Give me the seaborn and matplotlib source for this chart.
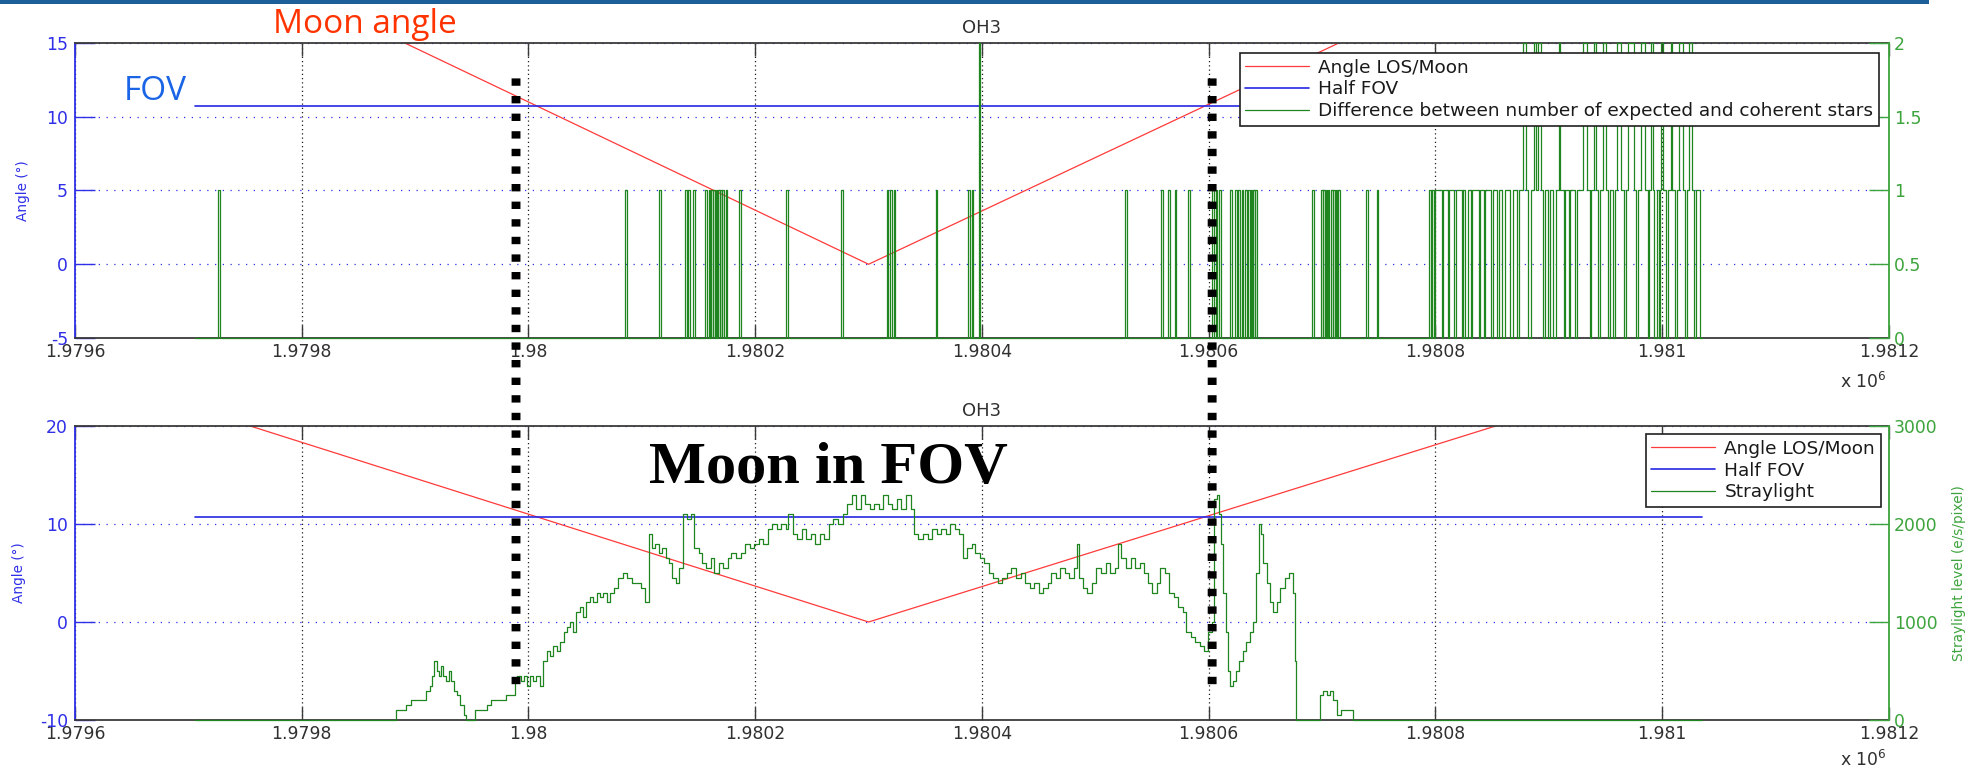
import numpy as np
import seaborn as sns
import matplotlib
matplotlib.use("Agg")
import matplotlib.pyplot as plt
from matplotlib.patches import Rectangle, ConnectionPatch
from matplotlib.ticker import FixedLocator, FixedFormatter

# ---------------------------------------------------------------- data
x_ticks = [1.9796, 1.9798, 1.9800, 1.9802, 1.9804, 1.9806, 1.9808, 1.9810, 1.9812]
x_tick_labels = ["1.9796", "1.9798", "1.98", "1.9802", "1.9804",
                 "1.9806", "1.9808", "1.981", "1.9812"]

# time span of the record (same time unit as the x axis, before the x 10^6 scaling)
record_span = [1979706, 1981035]

# angle between line of sight and Moon (deg)
angle_t = [1979700, 1980300, 1980900]
angle_deg = [22.0, 0.0, 21.7]

# half field of view (deg)
half_fov_deg = 10.7

# difference between expected and coherent stars: isolated spikes
diff_spike_t = [1979726, 1980085, 1980115, 1980138, 1980141, 1980145, 1980156, 1980159,
                1980161, 1980163, 1980165, 1980167, 1980169, 1980171, 1980174, 1980186,
                1980227, 1980276, 1980316, 1980319, 1980322, 1980359, 1980388, 1980391,
                1980397, 1980526, 1980558, 1980564, 1980570, 1980582, 1980603, 1980606,
                1980609, 1980619, 1980623, 1980626, 1980629, 1980632, 1980635, 1980637,
                1980639, 1980641, 1980691, 1980699, 1980701, 1980703, 1980705, 1980708,
                1980710, 1980712, 1980714, 1980739, 1980748]
diff_spike_v = [1, 1, 1, 1, 1, 1, 1, 1,
                1, 1, 1, 1, 1, 1, 1, 1,
                1, 1, 1, 1, 1, 1, 1, 1,
                2, 1, 1, 1, 1, 1, 1, 1,
                1, 1, 1, 1, 1, 1, 1, 1,
                1, 1, 1, 1, 1, 1, 1, 1,
                1, 1, 1, 1, 1]

# difference signal: level changes in the busy end of the record
diff_dense_t = [1980794, 1980796, 1980797, 1980799, 1980800, 1980806, 1980807, 1980811, 1980812, 1980816,
                1980818, 1980823, 1980824, 1980826, 1980829, 1980831, 1980832, 1980838, 1980839, 1980843,
                1980844, 1980849, 1980851, 1980854, 1980856, 1980859, 1980861, 1980866, 1980868, 1980872,
                1980874, 1980877, 1980880, 1980882, 1980884, 1980887, 1980889, 1980890, 1980893, 1980895,
                1980897, 1980899, 1980901, 1980904, 1980906, 1980909, 1980910, 1980913, 1980914, 1980918,
                1980919, 1980923, 1980925, 1980930, 1980934, 1980936, 1980937, 1980940, 1980942, 1980943,
                1980945, 1980948, 1980950, 1980952, 1980954, 1980957, 1980958, 1980960, 1980964, 1980966,
                1980968, 1980970, 1980975, 1980977, 1980979, 1980981, 1980985, 1980987, 1980988, 1980990,
                1980992, 1980993, 1980995, 1980997, 1980998, 1980999, 1981001, 1981003, 1981005, 1981008,
                1981009, 1981011, 1981013, 1981015, 1981018, 1981020, 1981022, 1981024, 1981026, 1981028,
                1981030, 1981033]
diff_dense_v = [1, 0, 1, 0, 1, 0, 1, 0, 1, 0,
                1, 0, 1, 0, 1, 0, 1, 0, 1, 0,
                1, 0, 1, 0, 1, 0, 1, 0, 1, 0,
                1, 2, 1, 0, 1, 2, 1, 2, 1, 0,
                1, 0, 1, 0, 1, 2, 1, 0, 1, 0,
                1, 0, 1, 2, 1, 0, 1, 2, 1, 0,
                1, 2, 1, 0, 1, 0, 1, 2, 1, 0,
                1, 2, 1, 0, 1, 2, 1, 0, 1, 2,
                1, 0, 1, 0, 1, 2, 1, 0, 1, 2,
                1, 0, 1, 2, 1, 0, 1, 2, 1, 0,
                1, 0]

# straylight level (e/s/pixel)
stray_t = [1979706, 1979883, 1979892, 1979896, 1979906, 1979910, 1979913, 1979915, 1979917, 1979919,
           1979921, 1979923, 1979925, 1979927, 1979930, 1979932, 1979934, 1979937, 1979940, 1979943,
           1979945, 1979953, 1979960, 1979963, 1979967, 1979975, 1979980, 1979985, 1979988, 1979990,
           1979993, 1979996, 1979999, 1980001, 1980004, 1980007, 1980010, 1980013, 1980016, 1980019,
           1980022, 1980025, 1980028, 1980031, 1980034, 1980037, 1980039, 1980042, 1980045, 1980048,
           1980051, 1980054, 1980057, 1980060, 1980063, 1980066, 1980069, 1980072, 1980075, 1980079,
           1980083, 1980087, 1980091, 1980095, 1980099, 1980103, 1980106, 1980109, 1980112, 1980115,
           1980118, 1980121, 1980124, 1980127, 1980130, 1980133, 1980136, 1980140, 1980143, 1980146,
           1980150, 1980153, 1980157, 1980161, 1980164, 1980168, 1980172, 1980176, 1980179, 1980183,
           1980187, 1980191, 1980195, 1980199, 1980203, 1980207, 1980211, 1980215, 1980219, 1980223,
           1980227, 1980229, 1980233, 1980237, 1980241, 1980245, 1980249, 1980253, 1980257, 1980261,
           1980265, 1980269, 1980273, 1980277, 1980281, 1980285, 1980289, 1980293, 1980297, 1980301,
           1980305, 1980309, 1980313, 1980317, 1980321, 1980325, 1980329, 1980333, 1980337, 1980340,
           1980344, 1980348, 1980352, 1980356, 1980360, 1980364, 1980368, 1980372, 1980376, 1980380,
           1980383, 1980387, 1980391, 1980394, 1980398, 1980402, 1980406, 1980410, 1980414, 1980418,
           1980422, 1980426, 1980430, 1980434, 1980438, 1980442, 1980446, 1980450, 1980454, 1980458,
           1980461, 1980465, 1980469, 1980473, 1980477, 1980481, 1980484, 1980486, 1980489, 1980493,
           1980497, 1980501, 1980505, 1980509, 1980513, 1980517, 1980520, 1980523, 1980527, 1980531,
           1980535, 1980539, 1980543, 1980546, 1980550, 1980554, 1980557, 1980561, 1980565, 1980569,
           1980573, 1980577, 1980580, 1980584, 1980588, 1980592, 1980596, 1980599, 1980603, 1980605,
           1980607, 1980609, 1980611, 1980613, 1980615, 1980617, 1980619, 1980621, 1980624, 1980627,
           1980630, 1980633, 1980636, 1980639, 1980642, 1980644, 1980646, 1980648, 1980651, 1980654,
           1980657, 1980660, 1980663, 1980667, 1980671, 1980674, 1980676, 1980677, 1980698, 1980701,
           1980704, 1980707, 1980710, 1980713, 1980717, 1980722, 1980727, 1981035]
stray_level = [0, 100, 150, 200, 200, 300, 350, 450, 600, 500,
               450, 550, 450, 400, 500, 400, 300, 250, 150, 50,
               0, 100, 100, 150, 200, 200, 250, 250, 400, 450,
               400, 450, 350, 450, 400, 450, 350, 600, 700, 650,
               750, 700, 800, 900, 950, 1000, 900, 1100, 1150, 1050,
               1200, 1250, 1200, 1300, 1250, 1300, 1200, 1300, 1350, 1450,
               1500, 1450, 1400, 1400, 1350, 1200, 1900, 1750, 1800, 1700,
               1750, 1650, 1600, 1450, 1400, 1550, 2100, 2050, 2100, 1750,
               1700, 1600, 1550, 1650, 1500, 1600, 1550, 1650, 1700, 1650,
               1700, 1800, 1750, 1800, 1850, 1800, 1950, 2000, 1950, 2000,
               1950, 2100, 1900, 1850, 1950, 1850, 1900, 1800, 1900, 1850,
               2000, 2050, 2000, 2100, 2200, 2300, 2150, 2300, 2200, 2150,
               2200, 2150, 2300, 2200, 2150, 2250, 2150, 2300, 2150, 1900,
               1850, 1900, 1850, 1950, 1900, 1950, 1900, 2000, 1950, 1900,
               1650, 1750, 1800, 1700, 1650, 1600, 1500, 1450, 1400, 1450,
               1500, 1550, 1450, 1500, 1400, 1350, 1400, 1300, 1350, 1400,
               1500, 1450, 1550, 1500, 1450, 1550, 1800, 1450, 1350, 1300,
               1400, 1550, 1500, 1600, 1500, 1550, 1800, 1650, 1550, 1650,
               1550, 1600, 1500, 1400, 1300, 1400, 1550, 1500, 1300, 1250,
               1150, 1100, 900, 850, 800, 750, 700, 900, 1000, 2250,
               2300, 2100, 1800, 1300, 900, 500, 350, 400, 500, 600,
               700, 800, 900, 1000, 1500, 2000, 1900, 1600, 1400, 1200,
               1100, 1200, 1350, 1450, 1500, 1300, 600, 0, 250, 300,
               250, 300, 200, 50, 100, 100, 0, 0]

# times where the Moon enters / leaves the field of view, and the vertical
# extent of the marker lines (in angle units of each panel)
fov_crossings_t = [1979989, 1980603]
marker_top_deg = 12.6
marker_bottom_deg = -7.2

# ---------------------------------------------------------------- style
sns.set_theme(style="white")
plt.rcParams["font.family"] = ["DejaVu Sans"]
plt.rcParams["axes.unicode_minus"] = False

BLUE_AX = "#2f2fe8"
GREEN_AX = "#3ca43c"
GREEN_LINE = "#1f861f"
RED = "#ff3a3a"
FOV_BLUE = "#2626e4"
TEXT_GRAY = "#303030"
SPINE = "#3a3a3a"
SCALE = 1e6

fig = plt.figure(figsize=(19.75, 7.72), dpi=100)
fig.patch.set_facecolor("white")
ax_top = fig.add_axes([0.03797, 0.56218, 0.91848, 0.38212])
ax_bot = fig.add_axes([0.03797, 0.06736, 0.91848, 0.38083])


def lp(ax, t, v, color, lw, **kw):
    sns.lineplot(x=np.asarray(t, float) / SCALE, y=np.asarray(v, float), ax=ax,
                 color=color, lw=lw, estimator=None, sort=False, **kw)
    return ax.lines[-1]


def step_series(spike_t, spike_v, dense_t, dense_v):
    t = [record_span[0]]
    v = [0]
    for ts, vs in zip(spike_t, spike_v):
        t += [ts, ts + 1.5]
        v += [vs, 0]
    t += list(dense_t) + [record_span[1]]
    v += list(dense_v) + [0]
    return t, v


def panel(ax, left_lim, left_ticks, right_lim, right_ticks, right_labels,
          green_t, green_v, green_label, right_ylabel, xlabel_y, leg_pad, ylabel_x):
    ax_r = ax.twinx()

    h_angle = lp(ax, angle_t, angle_deg, RED, 0.9)
    h_fov = lp(ax, record_span, [half_fov_deg, half_fov_deg], FOV_BLUE, 1.2)
    h_green = lp(ax_r, green_t, green_v, GREEN_LINE, 0.9,
                 drawstyle="steps-post", clip_on=False)

    ax.set_xlim(x_ticks[0], x_ticks[-1])
    ax.set_ylim(*left_lim)
    ax_r.set_ylim(*right_lim)

    ax.xaxis.set_major_locator(FixedLocator(x_ticks))
    ax.xaxis.set_major_formatter(FixedFormatter(x_tick_labels))
    ax.set_yticks(left_ticks)
    ax.set_yticklabels([f"{v:g}" for v in left_ticks])
    ax_r.set_yticks(right_ticks)
    ax_r.set_yticklabels(right_labels)
    ax.set_xlabel("")
    ax_r.set_xlabel("")

    ax.set_axisbelow(True)
    ax.xaxis.grid(True, color="#1e1e1e", linestyle=(0, (1, 2.4)), lw=0.9)
    ax.yaxis.grid(True, color=BLUE_AX, linestyle=(0, (1, 5.2)), lw=0.9)
    ax_r.grid(False)

    ax.tick_params(axis="x", direction="in", length=9.4, width=1.0, top=True, bottom=True,
                   color=SPINE, labelcolor=TEXT_GRAY, labelsize=12.4, pad=3.5)
    ax.tick_params(axis="y", direction="in", length=14.4, width=1.0, left=True, right=False,
                   color=BLUE_AX, labelcolor=BLUE_AX, labelsize=12.4, pad=5)
    ax_r.tick_params(axis="y", direction="in", length=14.4, width=1.0, right=True, left=False,
                     color=GREEN_AX, labelcolor=GREEN_AX, labelsize=12.4, pad=3.5)

    for side in ("top", "bottom"):
        ax.spines[side].set_color(SPINE)
        ax.spines[side].set_linewidth(1.3)
    ax.spines["left"].set_color(BLUE_AX)
    ax.spines["left"].set_linewidth(1.3)
    ax.spines["right"].set_visible(False)
    for side in ("left", "top", "bottom"):
        ax_r.spines[side].set_visible(False)
    ax_r.spines["right"].set_color(GREEN_AX)
    ax_r.spines["right"].set_linewidth(1.3)

    ax.set_title("OH3", fontsize=13, color=TEXT_GRAY, pad=7)
    ax.set_ylabel("Angle (°)", color=BLUE_AX, fontsize=9.8)
    ax.yaxis.set_label_coords(ylabel_x, 0.5)
    if right_ylabel:
        ax_r.set_ylabel(right_ylabel, color=GREEN_AX, fontsize=9.8)
        ax_r.yaxis.set_label_coords(1.0347, 0.5)

    ax.text(0.999, xlabel_y, r"x 10$^{6}$", transform=ax.transAxes, ha="right",
            va="center", fontsize=12.4, color=TEXT_GRAY)

    leg = ax_r.legend([h_angle, h_fov, h_green],
                      ["Angle LOS/Moon", "Half FOV", green_label],
                      loc="upper right", bbox_to_anchor=(1, 1), borderaxespad=leg_pad,
                      fontsize=13.3, frameon=True, fancybox=False, framealpha=1,
                      edgecolor="#202020", handlelength=3.45, handletextpad=0.5,
                      labelspacing=0.2, borderpad=0.3)
    leg.get_frame().set_linewidth(1.2)
    for txt in leg.get_texts():
        txt.set_color("#1a1a1a")
    return ax_r


diff_t, diff_v = step_series(diff_spike_t, diff_spike_v, diff_dense_t, diff_dense_v)

panel(ax_top, (-5, 15), [-5, 0, 5, 10, 15], (0, 2), [0, 0.5, 1, 1.5, 2],
      ["0", "0.5", "1", "1.5", "2"], diff_t, diff_v,
      "Difference between number of expected and coherent stars", None,
      -0.149, 0.55, -0.0248)
panel(ax_bot, (-10, 20), [-10, 0, 10, 20], (0, 3000), [0, 1000, 2000, 3000],
      ["0", "1000", "2000", "3000"], stray_t, stray_level,
      "Straylight", "Straylight level (e/s/pixel)",
      -0.136, 0.45, -0.027)

# thick dotted markers spanning both panels at the FOV entry / exit times
for t in fov_crossings_t:
    con = ConnectionPatch(xyA=(t / SCALE, marker_top_deg), coordsA=ax_top.transData,
                          xyB=(t / SCALE, marker_bottom_deg), coordsB=ax_bot.transData,
                          color="black", lw=6.4, linestyle=(0, (0.83, 1.15)),
                          capstyle="butt", zorder=10)
    fig.add_artist(con)

# annotations
fig.text(0.1848, 0.9573, "Moon angle", ha="center", va="baseline", fontsize=24,
         family=["Open Sans", "DejaVu Sans"], color="#ff3300")
fig.text(0.0785, 0.8705, "FOV", ha="center", va="baseline", fontsize=24,
         family=["Open Sans", "DejaVu Sans"], color="#1a64e6")
fig.text(0.4192, 0.3743, "Moon in FOV", ha="center", va="baseline", fontsize=43.5,
         fontweight="bold", family=["Liberation Serif", "DejaVu Serif"], color="black")

# header band
fig.add_artist(Rectangle((0, 1 - 3.5 / 772), 1929 / 1975, 3.5 / 772,
                         transform=fig.transFigure, color="#1d5f99", lw=0))

fig.savefig("out.png", dpi=100, facecolor="white")
